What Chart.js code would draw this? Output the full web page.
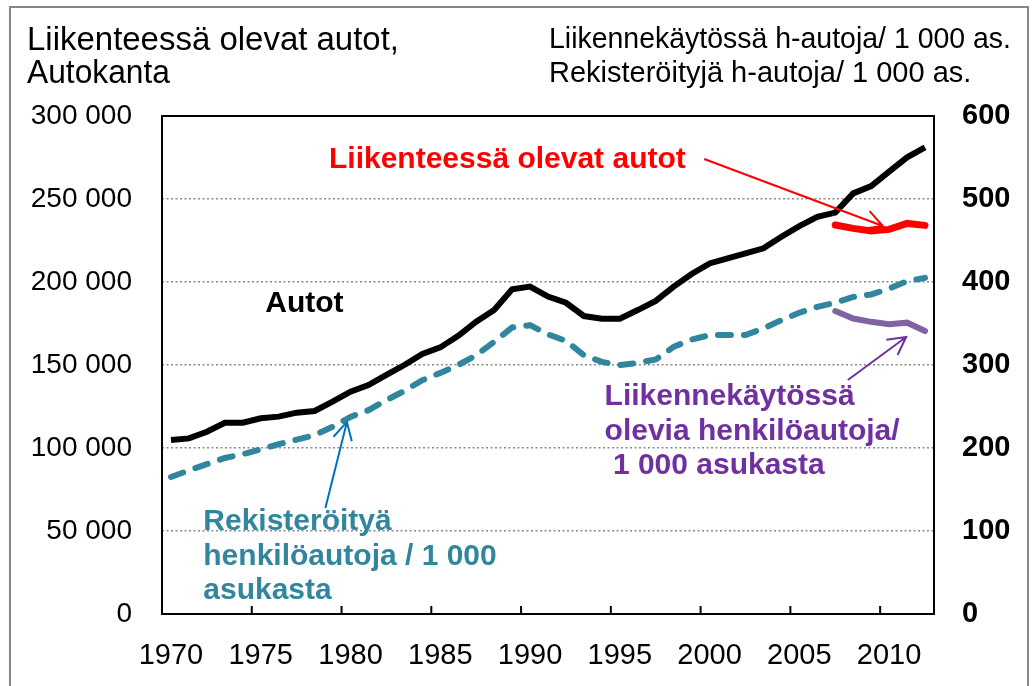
<!DOCTYPE html>
<html>
<head>
<meta charset="utf-8">
<script src="https://cdn.jsdelivr.net/npm/chart.js@4/dist/chart.umd.min.js"></script>
<style>
  body { margin: 0; background: #fff; }
  #wrap { width: 1035px; height: 686px; position: relative; }
</style>
</head>
<body>
<div id="wrap"><canvas id="chart"></canvas></div>
<script>
const years = [];
for (let y = 1970; y <= 2012; y++) years.push(String(y));

// Autot (vasen akseli)
const autot = [104800, 105800, 109800, 115200, 115200, 117900, 118900, 121300, 122300, 127900,
  133900, 137900, 144000, 150000, 156600, 160600, 167600, 176100, 183100, 195600,
  197200, 191200, 187500, 179500, 177900, 177900, 183100, 188600, 197200, 204800,
  211200, 214300, 217300, 220300, 227300, 233700, 239300, 241800, 253400, 257800,
  266500, 275100, 281100];

// Liikenteessä olevat autot 2007-2012 (vasen akseli)
const liikenteessa = [234300, 232300, 230700, 231700, 235300, 234100];

// Rekisteröityjä henkilöautoja / 1000 as. (oikea akseli)
const rekisteroityja = [165, 173, 180.5, 188, 192.5, 198.6, 204.6, 210, 215.5, 225.5,
  237.5, 245.6, 257.6, 268.8, 281.7, 290.5, 300, 311.8, 327.9, 345.2,
  348, 337, 329, 311.8, 303.8, 299.8, 302.6, 306.6, 321.9, 330.7,
  336, 336, 336, 344, 354, 363, 370, 375, 382, 385,
  392, 401, 405];

// Liikennekäytössä olevia henkilöautoja / 1000 as. 2007-2012 (oikea akseli)
const liikennekaytossa = [365, 356, 352, 349, 351, 341];

const leftTicks = [0, 50000, 100000, 150000, 200000, 250000, 300000];
const rightTicks = [0, 100, 200, 300, 400, 500, 600];

// pad the short series so they sit on 2007-2012
const pad = n => new Array(years.length - n.length).fill(null).concat(n);

const FONT = '"Liberation Sans", Arial, sans-serif';

const fmt = v => String(v).replace(/\B(?=(\d{3})+(?!\d))/g, ' ');

// annotation texts in data units (year, left axis value)
const notes = [
  { lines: ['Liikenteessä olevat autot'], year: 1978.8, value: 268700, color: '#ff0000' },
  { lines: ['Autot'], year: 1975.25, value: 181900, color: '#000000' },
  { lines: ['Rekisteröityä', 'henkilöautoja / 1 000', 'asukasta'], year: 1971.8, value: 50600, color: '#31859c' },
  { lines: ['Liikennekäytössä', 'olevia henkilöautoja/', ' 1 000 asukasta'], year: 1994.15, value: 125900, color: '#7030a0' }
];
const arrows = [
  { from: [1999.7, 274100], to: [2009.65, 233700], color: '#ff0000' },
  { from: [1978.6, 63900], to: [1979.8, 115700], color: '#0070c0' },
  { from: [2007.7, 141000], to: [2010.95, 166900], color: '#7030a0' }
];

const extras = {
  id: 'extras',
  beforeDatasetsDraw(chart) {
    const { ctx, chartArea: a, scales } = chart;
    ctx.save();
    ctx.strokeStyle = '#000';
    ctx.lineWidth = 2;
    ctx.strokeRect(a.left, a.top, a.right - a.left, a.bottom - a.top);
    // tick marks inside, between categories every 5 years
    const xs = scales.x;
    ctx.lineWidth = 2;
    for (let i = 5; i < years.length; i += 5) {
      const px = (xs.getPixelForTick(i - 1) + xs.getPixelForTick(i)) / 2;
      ctx.beginPath();
      ctx.moveTo(px, a.bottom);
      ctx.lineTo(px, a.bottom - 8);
      ctx.stroke();
    }
    ctx.restore();
  },
  afterDraw(chart) {
    const { ctx, scales } = chart;
    const xs = scales.x, ys = scales.y;
    const px = yr => xs.getPixelForValue(yr - 1970);
    const py = v => ys.getPixelForValue(v);
    ctx.save();

    // outer frame
    ctx.strokeStyle = '#878787';
    ctx.lineWidth = 2;
    ctx.strokeRect(10, 7, 1018, 700);

    // titles
    ctx.fillStyle = '#000';
    ctx.textBaseline = 'alphabetic';
    ctx.textAlign = 'left';
    ctx.font = '33px ' + FONT;
    ctx.fillText('Liikenteessä olevat autot,', 27, 50, 372);
    ctx.fillText('Autokanta', 27, 83, 143);
    ctx.font = '29px ' + FONT;
    ctx.fillText('Liikennekäytössä h-autoja/ 1 000 as.', 549, 48, 462);
    ctx.fillText('Rekisteröityjä h-autoja/ 1 000 as.', 549, 82, 426);

    // annotation texts
    ctx.font = 'bold 30px ' + FONT;
    notes.forEach(n => {
      ctx.fillStyle = n.color;
      const x = px(n.year);
      let y = py(n.value);
      n.lines.forEach(t => {
        ctx.fillText(t, x, y);
        y += 34.5;
      });
    });

    // arrows
    arrows.forEach(ar => {
      const x1 = px(ar.from[0]), y1 = py(ar.from[1]);
      const x2 = px(ar.to[0]), y2 = py(ar.to[1]);
      const ang = Math.atan2(y1 - y2, x1 - x2);
      const len = 20, spread = 0.49;
      ctx.strokeStyle = ar.color;
      ctx.lineWidth = 2;
      ctx.beginPath();
      ctx.moveTo(x1, y1);
      ctx.lineTo(x2, y2);
      ctx.moveTo(x2 + len * Math.cos(ang - spread), y2 + len * Math.sin(ang - spread));
      ctx.lineTo(x2, y2);
      ctx.lineTo(x2 + len * Math.cos(ang + spread), y2 + len * Math.sin(ang + spread));
      ctx.stroke();
    });
    ctx.restore();
  }
};

new Chart(document.getElementById('chart'), {
  type: 'line',
  data: {
    labels: years,
    datasets: [{
      label: 'Rekisteröityjä henkilöautoja / 1 000 asukasta',
      data: rekisteroityja,
      yAxisID: 'y2',
      borderColor: '#31859c',
      borderWidth: 6,
      borderDash: [13, 13],
      borderCapStyle: 'round',
      pointRadius: 0,
      tension: 0
    }, {
      label: 'Autot',
      data: autot,
      yAxisID: 'y',
      borderColor: '#000000',
      borderWidth: 6,
      pointRadius: 0,
      tension: 0
    }, {
      label: 'Liikenteessä olevat autot',
      data: pad(liikenteessa),
      yAxisID: 'y',
      borderColor: '#ff0000',
      borderWidth: 7,
      borderCapStyle: 'round',
      pointRadius: 0,
      tension: 0
    }, {
      label: 'Liikennekäytössä olevia henkilöautoja / 1 000 asukasta',
      data: pad(liikennekaytossa),
      yAxisID: 'y2',
      borderColor: '#8064a2',
      borderWidth: 6,
      borderCapStyle: 'round',
      pointRadius: 0,
      tension: 0
    }]
  },
  options: {
    responsive: true,
    maintainAspectRatio: false,
    animation: false,
    devicePixelRatio: 1,
    layout: { padding: { top: 116, left: 0, right: 0, bottom: 0 } },
    plugins: { legend: { display: false }, tooltip: { enabled: false } },
    scales: {
      x: {
        type: 'category',
        offset: true,
        grid: { display: false, drawTicks: false },
        border: { display: false },
        ticks: {
          autoSkip: false,
          maxRotation: 0,
          padding: 25,
          color: '#000',
          font: { family: FONT, size: 29 },
          callback: (v, i) => (Number(years[i]) % 5 === 0 ? years[i] : '')
        },
        afterFit: s => { s.height = 72; }
      },
      y: {
        position: 'left',
        min: leftTicks[0],
        max: leftTicks[leftTicks.length - 1],
        afterBuildTicks: s => { s.ticks = leftTicks.map(v => ({ value: v })); },
        grid: {
          drawTicks: false,
          lineWidth: 1.5,
          color: ctx => (ctx.tick && (ctx.tick.value === 0 || ctx.tick.value === 300000) ? 'rgba(0,0,0,0)' : '#8a8a8a')
        },
        border: { display: false, dash: [2, 2.5] },
        ticks: {
          padding: 30,
          color: '#000',
          font: { family: FONT, size: 28 },
          callback: v => fmt(v)
        },
        afterFit: s => { s.width = 162; }
      },
      y2: {
        position: 'right',
        min: rightTicks[0],
        max: rightTicks[rightTicks.length - 1],
        afterBuildTicks: s => { s.ticks = rightTicks.map(v => ({ value: v })); },
        grid: { display: false, drawTicks: false },
        border: { display: false },
        ticks: {
          padding: 28,
          color: '#000',
          font: { family: FONT, size: 29, weight: 'bold' }
        },
        afterFit: s => { s.width = 101; }
      }
    }
  },
  plugins: [extras]
});
</script>
</body>
</html>
